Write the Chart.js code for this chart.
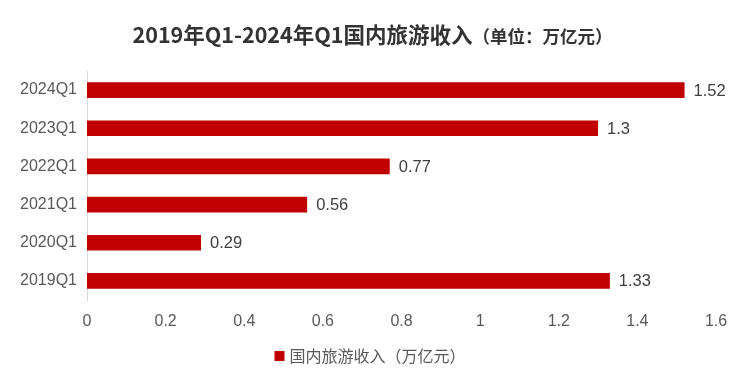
<!DOCTYPE html>
<html><head><meta charset="utf-8">
<script src="https://cdn.jsdelivr.net/npm/chart.js@4/dist/chart.umd.min.js"></script>
<style>html,body{margin:0;padding:0;background:#fff}#wrap{width:750px;height:379px;position:relative}</style>
</head><body><div id="wrap"><canvas id="c" width="750" height="379"></canvas></div>
<script>
const categories = ['2024Q1','2023Q1','2022Q1','2021Q1','2020Q1','2019Q1'];
const revenue = [1.52, 1.3, 0.77, 0.56, 0.29, 1.33];
const xTicks = [0, 0.2, 0.4, 0.6, 0.8, 1, 1.2, 1.4, 1.6];
const titleMain = '2019年Q1-2024年Q1国内旅游收入';
const titleSub = '（单位：万亿元）';
const seriesName = '国内旅游收入（万亿元）';

const FONT = '"Liberation Sans", "Noto Sans CJK SC", sans-serif';
const CJK = '"Noto Sans CJK SC", "Liberation Sans", sans-serif';

const overlay = {
  id: 'overlay',
  afterDatasetsDraw(chart) {
    const ctx = chart.ctx;
    const meta = chart.getDatasetMeta(0);
    ctx.save();
    ctx.font = '16.5px ' + FONT;
    ctx.fillStyle = '#404040';
    ctx.textAlign = 'left';
    ctx.textBaseline = 'middle';
    meta.data.forEach((bar, i) => {
      ctx.fillText(String(revenue[i]), bar.x + 9, bar.y + 1);
    });
    ctx.restore();
  },
  afterDraw(chart) {
    const ctx = chart.ctx;
    ctx.save();
    ctx.fillStyle = '#333333';
    ctx.textBaseline = 'middle';
    ctx.font = 'bold 21.5px ' + CJK;
    const w1 = ctx.measureText(titleMain).width;
    ctx.font = 'bold 17.5px ' + CJK;
    const w2 = ctx.measureText(titleSub).width;
    let x = 372.5 - (w1 + w2) / 2;
    ctx.textAlign = 'left';
    ctx.font = 'bold 21.5px ' + CJK;
    ctx.fillText(titleMain, x, 35);
    ctx.font = 'bold 17.5px ' + CJK;
    ctx.fillText(titleSub, x + w1, 36);
    // legend
    ctx.font = '16px ' + CJK;
    const lw = ctx.measureText(seriesName).width;
    const total = 10 + 5 + lw;
    const lx = 370 - total / 2;
    ctx.fillStyle = chart.data.datasets[0].backgroundColor;
    ctx.fillRect(lx, 351, 10, 10);
    ctx.fillStyle = '#595959';
    ctx.fillText(seriesName, lx + 15, 356);
    ctx.restore();
  }
};

new Chart(document.getElementById('c'), {
  type: 'bar',
  data: {
    labels: categories,
    datasets: [{
      label: seriesName,
      data: revenue,
      backgroundColor: '#C00000',
      borderWidth: 0,
      categoryPercentage: 1,
      barPercentage: 0.41
    }]
  },
  options: {
    indexAxis: 'y',
    responsive: false,
    animation: false,
    layout: { padding: { top: 71, right: 34, left: 0, bottom: 0 } },
    plugins: { legend: { display: false }, title: { display: false }, tooltip: { enabled: false } },
    scales: {
      x: {
        min: 0, max: 1.6,
        afterBuildTicks(scale) { scale.ticks = xTicks.map(v => ({ value: v })); },
        afterFit(scale) { scale.height = 79; },
        grid: { display: false, drawTicks: false },
        border: { display: false },
        ticks: {
          padding: 12,
          color: '#595959',
          font: { family: FONT, size: 16 },
          callback: (v) => String(v)
        }
      },
      y: {
        afterFit(scale) { scale.width = 87; },
        grid: { display: false, drawTicks: false },
        border: { display: true, color: '#d9d9d9', width: 1 },
        ticks: {
          padding: 10,
          color: '#595959',
          font: { family: FONT, size: 16 }
        }
      }
    }
  },
  plugins: [overlay]
});
</script></body></html>
